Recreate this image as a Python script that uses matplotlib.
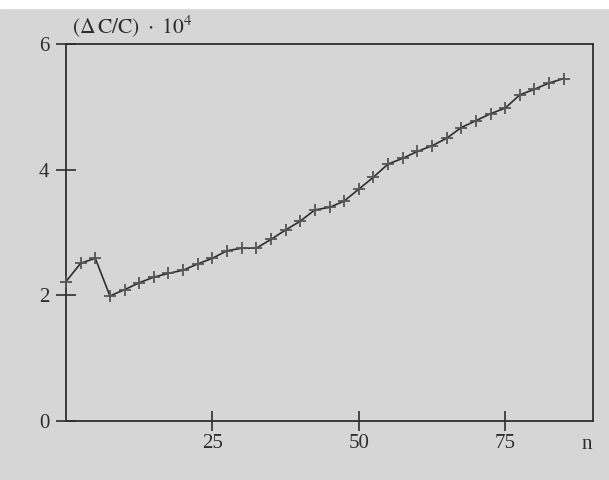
import matplotlib
matplotlib.use('Agg')
import matplotlib.pyplot as plt
from matplotlib.patches import Rectangle

# relative change of C against n
n = [0, 2.5, 5, 7.5, 10, 12.5, 15, 17.5, 20, 22.5, 25, 27.5, 30, 32.5, 35,
     37.5, 40, 42.5, 45, 47.5, 50, 52.5, 55, 57.5, 60, 62.5, 65, 67.5, 70,
     72.5, 75, 77.5, 80, 82.5, 85]
dcc = [2.22, 2.51, 2.59, 1.99, 2.09, 2.20, 2.29, 2.35, 2.40, 2.50, 2.59,
       2.71, 2.75, 2.75, 2.89, 3.04, 3.18, 3.36, 3.40, 3.50, 3.69, 3.88,
       4.09, 4.18, 4.29, 4.38, 4.50, 4.67, 4.78, 4.89, 4.98, 5.19, 5.28,
       5.38, 5.45]

xticks = [25, 50, 75]
yticks = [0, 2, 4, 6]

plt.rcParams['font.family'] = ['Liberation Serif', 'DejaVu Serif']
plt.rcParams['mathtext.fontset'] = 'stix'

bg = '#d6d6d6'
ink = '#2e2e2e'

fig = plt.figure(figsize=(6.09, 4.80), dpi=100, facecolor=bg)
ax = fig.add_axes([66/609, 1 - 421/480, 527/609, 377/480])
ax.set_facecolor(bg)

ax.plot(n, dcc, color=ink, lw=1.2, marker='+', ms=9, mew=1.3,
        mec='#555555', zorder=3, clip_on=False)

ax.set_xlim(0, 90)
ax.set_ylim(0, 6)
ax.set_xticks(xticks)
ax.set_yticks(yticks)
ax.tick_params(direction='inout', length=14, width=1.2, color=ink,
               labelcolor=ink, labelsize=15, pad=2)
ax.tick_params(axis='y', pad=5)
for s in ax.spines.values():
    s.set_color(ink)
    s.set_linewidth(1.3)

ax.text(89, -0.38, 'n', ha='center', va='center', fontsize=15, color=ink)
ax.text(0.012, 1.045, r'$\mathrm{(\Delta\,C/C)\ \cdot\ 10^4}$',
        transform=ax.transAxes, ha='left', va='center', fontsize=15.5,
        color=ink)

# white margin along the top edge of the page
fig.add_artist(Rectangle((0, 1 - 8/480), 1, 8/480, transform=fig.transFigure,
                         color='white', zorder=0))

fig.savefig('out.png', dpi=100, facecolor=bg)
